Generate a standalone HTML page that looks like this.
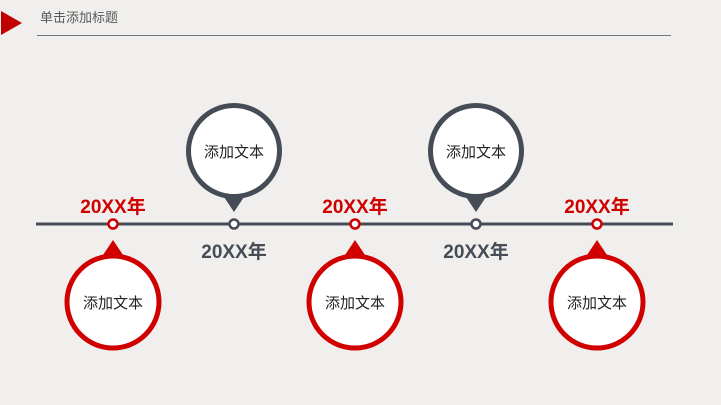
<!DOCTYPE html>
<html><head><meta charset="utf-8"><style>
html,body{margin:0;padding:0;background:#f0efed;}
svg{display:block}
text{font-family:"Liberation Sans","Noto Sans CJK SC",sans-serif;}
</style></head><body>
<svg width="721" height="405" viewBox="0 0 721 405">
<rect width="721" height="405" fill="#f0efed"/>
<polygon points="1,11 22,23 1,35" fill="#c00000"/>
<text x="40" y="22" font-size="13" fill="#595959">单击添加标题</text>
<line x1="37" y1="35.5" x2="671" y2="35.5" stroke="#777" stroke-width="1"/>
<line x1="36" y1="224" x2="673" y2="224" stroke="#464c55" stroke-width="3"/>
<g fill="#fff" stroke="#d00000">
<polygon points="113,240 101,258 125,258" fill="#d00000" stroke="none"/>
<circle cx="113" cy="302" r="46" stroke-width="5"/>
<polygon points="355,240 343,258 367,258" fill="#d00000" stroke="none"/>
<circle cx="355" cy="302" r="46" stroke-width="5"/>
<polygon points="597,240 585,258 609,258" fill="#d00000" stroke="none"/>
<circle cx="597" cy="302" r="46" stroke-width="5"/>
<circle cx="113" cy="224" r="4.5" stroke-width="2.5"/>
<circle cx="355" cy="224" r="4.5" stroke-width="2.5"/>
<circle cx="597" cy="224" r="4.5" stroke-width="2.5"/>
</g>
<g fill="#fff" stroke="#464c55">
<polygon points="234,212 222,194 246,194" fill="#464c55" stroke="none"/>
<circle cx="234" cy="151" r="45.5" stroke-width="5"/>
<polygon points="476,212 464,194 488,194" fill="#464c55" stroke="none"/>
<circle cx="476" cy="151" r="45.5" stroke-width="5"/>
<circle cx="234" cy="224" r="4.5" stroke-width="2.5"/>
<circle cx="476" cy="224" r="4.5" stroke-width="2.5"/>
</g>
<g font-size="15" fill="#222" text-anchor="middle">
<text x="113" y="308">添加文本</text>
<text x="355" y="308">添加文本</text>
<text x="597" y="308">添加文本</text>
<text x="234" y="157">添加文本</text>
<text x="476" y="157">添加文本</text>
</g>
<g font-size="19" font-weight="bold" text-anchor="middle">
<text x="113" y="213" fill="#d00000">20XX年</text>
<text x="355" y="213" fill="#d00000">20XX年</text>
<text x="597" y="213" fill="#d00000">20XX年</text>
<text x="234" y="258" fill="#464c55">20XX年</text>
<text x="476" y="258" fill="#464c55">20XX年</text>
</g>
</svg>
</body></html>
